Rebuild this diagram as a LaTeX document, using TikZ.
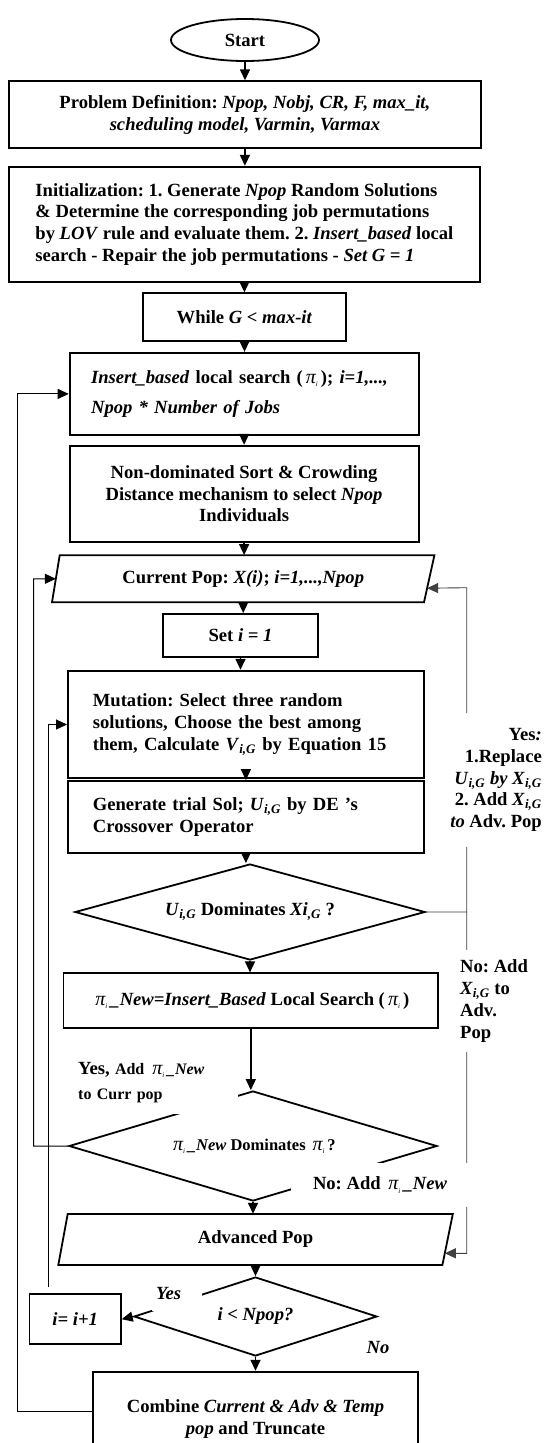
\documentclass[tikz,border=0pt]{standalone}
\usepackage{fontspec}
\setmainfont{Liberation Serif}
\usetikzlibrary{arrows.meta,shapes.geometric,calc}
\newcommand{\sbi}[1]{\textsubscript{\textit{#1}}}
\newcommand{\pii}{{\mdseries\itshape\,{\fontsize{20}{20}\selectfont π}\raisebox{-0.4ex}{\scriptsize i}\,}}
\frenchspacing
\begin{document}
\begin{tikzpicture}[x=1pt,y=-1pt,
  base/.style={font=\fontsize{18.6}{21.7}\selectfont\bfseries},
  box/.style={base,draw,line width=1.8pt,inner sep=0pt,align=center},
  dia/.style={base,draw,line width=1.8pt,diamond,inner sep=0pt},
  txt/.style={base,inner sep=0pt,align=center},
  shp/.style={line width=1.8pt,line join=miter},
  arr/.style={line width=1.5pt,-{Triangle[length=11pt,width=10pt]}},
  back/.style={line width=1pt,-{Triangle[length=11pt,width=10pt]}},
  side/.style={line width=0.9pt,draw=black!75},
  lbl/.style={base,inner sep=2pt}
]
\useasboundingbox[fill=white] (0,0) rectangle (544,1443);

% main column
\node[box,ellipse,minimum width=148,minimum height=42] (start) at (245,40) {Start};
\node[box,minimum width=472,minimum height=67] (prob) at (244.9,114.7)
  {Problem Definition: \textit{Npop, Nobj, CR, F, max\_it,}\\ \textit{scheduling model, Varmin, Varmax}};
\node[box,minimum width=471,minimum height=115,align=left] (init) at (244.4,224.2)
  {Initialization: 1. Generate \textit{Npop} Random Solutions\\
   \& Determine the corresponding job permutations\\
   by \textit{LOV} rule and evaluate them. 2. \textit{Insert\_based} local\\
   search - Repair the job permutations - \textit{Set G = 1}};
\node[box,minimum width=203,minimum height=47.4] (while) at (244.5,317) {While \textit{G < max-it}};
\node[box,minimum width=349,minimum height=82.3,text width=306,align=left] (ins) at (244.1,393.9)
  {\textit{Insert\_based} local search (\pii); \textit{i=1,...,}\\[8pt] \textit{Npop * Number of Jobs}};
\node[box,minimum width=349,minimum height=96] (nd) at (244.1,493.7)
  {Non-dominated Sort \& Crowding\\ Distance mechanism to select \textit{Npop}\\ Individuals};

% Current Pop parallelogram
\coordinate (cpTL) at (59.7,555.3);
\coordinate (cpTR) at (434.4,555.3);
\coordinate (cpBR) at (424,602.3);
\coordinate (cpBL) at (52,602.3);
\draw[shp] (cpTL) -- (cpTR) -- (cpBR) -- (cpBL) -- cycle;
\node[txt,minimum width=372,minimum height=47] (cp) at (243.2,578.8)
  {Current Pop: \textit{X(i)}; \textit{i=1,...,Npop}};

\node[box,minimum width=155,minimum height=42.7] (seti) at (240.5,635.3) {Set \textit{i = 1}};
\node[box,minimum width=356,minimum height=107.6,text width=306,align=left] (mut) at (245.9,724.5)
  {Mutation: Select three random\\ solutions, Choose the best among\\ them, Calculate \textit{V}\sbi{i,G} by Equation 15};
\node[box,minimum width=356,minimum height=72.3,text width=306,align=left] (gen) at (245.9,817.2)
  {Generate trial Sol; \textit{U}\sbi{i,G} by DE \char"27 s\\ Crossover Operator};
\node[dia,aspect=3.646,minimum width=350,minimum height=96] (d1) at (250,912)
  {\textit{U}\sbi{i,G} Dominates \textit{Xi}\sbi{,G} ?};
\node[box,minimum width=374.5,minimum height=55] (pis) at (250.8,1000.8)
  {\pii\textit{\_New=Insert\_Based} Local Search (\pii)};
\node[dia,aspect=3.345,minimum width=368,minimum height=110,font=\fontsize{16.5}{19}\selectfont\bfseries] (d2) at (253,1146)
  {\pii\textit{\_New} Dominates \pii?};

% Advanced Pop parallelogram
\coordinate (apTL) at (67.7,1214);
\coordinate (apTR) at (452.8,1214);
\coordinate (apBR) at (442.4,1265);
\coordinate (apBL) at (58.3,1265);
\draw[shp] (apTL) -- (apTR) -- (apBR) -- (apBL) -- cycle;
\node[txt,minimum width=380,minimum height=51] (adv) at (255.5,1239.5) {Advanced Pop};

\node[dia,aspect=3.076,minimum width=243,minimum height=79] (d3) at (255.5,1316.5) {\textit{i < Npop?}};
\node[box,minimum width=91.3,minimum height=50.3] (inc) at (75.2,1319.2) {\textit{i= i+1}};
\node[box,minimum width=325,minimum height=95] (comb) at (255.5,1419.2)
  {Combine \textit{Current \& Adv \& Temp}\\ \textit{pop} and Truncate};

% main arrows
\draw[arr] (start.south) -- (start.south |- prob.north);
\draw[arr] (prob.south) -- (prob.south |- init.north);
\draw[arr] (init.south) -- (init.south |- while.north);
\draw[arr] (while.south) -- (while.south |- ins.north);
\draw[arr] (ins.south) -- (ins.south |- nd.north);
\draw[arr] (nd.south) -- (nd.south |- cp.north);
\draw[arr] (cp.south) -- (cp.south |- seti.north);
\draw[arr] (seti.south) -- (seti.south |- mut.north);
\draw[arr] (mut.south) -- (mut.south |- gen.north);
\draw[arr] (gen.south) -- (gen.south |- d1.north);
\draw[arr] (d1.south) -- (d1.south |- pis.north);
\draw[arr] (pis.south) -- (pis.south |- d2.north);
\draw[arr] (d2.south) -- (d2.south |- adv.north);
\draw[arr] (adv.south) -- (adv.south |- d3.north);
\draw[arr] (d3.south) -- (d3.south |- comb.north);
\draw[arr] (d3.west) -- (inc.east);

% left loops
\coordinate (lxA) at (17.3,0);
\coordinate (lxB) at (33.7,0);
\coordinate (lxC) at (48.6,0);
\draw[back] ([yshift=6pt]inc.north -| lxC) -- (lxC |- mut.west) -- (mut.west);
\draw[back] (d2.west) -- (d2.west -| lxB) -- (lxB |- cp.west) -- ($(cpBL)!0.5!(cpTL)$);
\draw[back] ([yshift=7.5pt]comb.west) -- ([yshift=7.5pt]comb.west -| lxA) -- (lxA |- ins.west) -- (ins.west);

% right side
\coordinate (rx) at (466.7,0);
\draw[side,-{Triangle[length=11pt,width=10pt]}] (d1.east) -- (d1.east -| rx) -- (rx |- 0,587.7) -- ($(cpTR)!0.7!(cpBR)$);
\draw[side,-{Triangle[length=11pt,width=10pt]}] (d1.east -| rx) -- (rx |- 0,1253.3) -- ($(apTR)!0.77!(apBR)$);

% labels
\node[lbl,fill=white,anchor=east,align=right,minimum height=134] (yesr) at (544,780)
  {Yes\textit{:}\\ 1.Replace\\ \textit{U}\sbi{i,G} \textit{by X}\sbi{i,G}\\ 2. Add \textit{X}\sbi{i,G}\\ \textit{to} Adv. Pop};
\node[lbl,fill=white,anchor=west,align=left,minimum height=102,inner xsep=5pt] (nor) at (455,1001)
  {No: Add\\ \textit{X}\sbi{i,G} to\\ Adv.\\ Pop};
\node[lbl,fill=white,anchor=north west,text width=158,align=left,minimum height=64,
  font=\fontsize{16}{19}\selectfont\bfseries] (yesl) at (76,1050)
  {{\fontsize{18.6}{20}\selectfont Yes,} Add \pii\textit{\_New}\\[6pt] to Curr pop};
\node[lbl,fill=white,minimum width=179,minimum height=44] (nol) at (380,1185)
  {No: Add \pii\textit{\_New}};
\node[lbl,fill=white,anchor=west,text width=42,align=left,inner xsep=4pt,minimum height=36] (yes3) at (152,1293)
  {\textit{Yes}};
\node[lbl] (no3) at (378,1347) {\textit{No}};
\end{tikzpicture}
\end{document}
